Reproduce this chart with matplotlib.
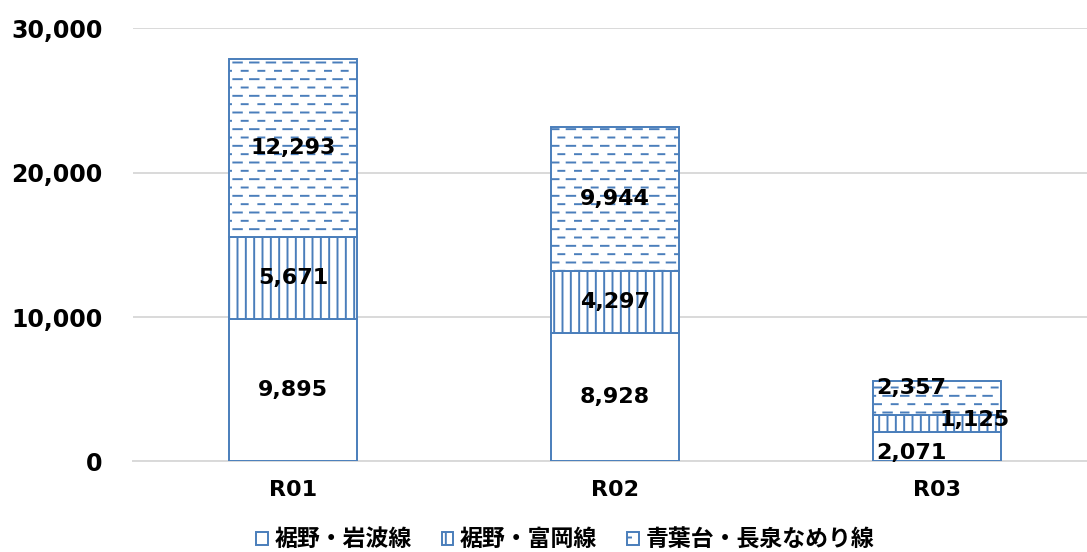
import warnings
import numpy as np
import matplotlib
matplotlib.use('Agg')
import matplotlib.pyplot as plt
import matplotlib.hatch as mhatch
from matplotlib.path import Path

warnings.filterwarnings('ignore', message='hatch must consist')

# data
categories = ['R01', 'R02', 'R03']
series_names = ['裾野・岩波線', '裾野・富岡線', '青葉台・長泉なめり線']
iwanami = [9895, 8928, 2071]
tomioka = [5671, 4297, 1125]
aobadai = [12293, 9944, 2357]
yticks = [0, 10000, 20000, 30000]


# dashed horizontal hatch (Excel style), used with the 'd' character
class DashHatch(mhatch.HatchPatternBase):
    def __init__(self, hatch, density):
        self.rows = 12 if 'd' in hatch else 0
        self.dashes = 6
        self.num_vertices = self.rows * self.dashes * 2

    def set_vertices_and_codes(self, vertices, codes):
        k = 0
        for r in range(self.rows):
            y = (r + 0.5) / self.rows
            shift = 0.0 if r % 2 == 0 else 0.5 / self.dashes
            length = 0.085 if r % 2 == 0 else 0.06
            for d in range(self.dashes):
                x0 = d / self.dashes + shift
                vertices[k] = (x0, y)
                vertices[k + 1] = (x0 + length, y)
                codes[k] = Path.MOVETO
                codes[k + 1] = Path.LINETO
                k += 2


mhatch._hatch_types.append(DashHatch)

plt.rcParams['font.family'] = ['DejaVu Sans', 'Noto Sans CJK JP']
plt.rcParams['font.weight'] = 'bold'
plt.rcParams['hatch.linewidth'] = 1.4

blue = '#4A7EBB'
grid = '#D9D9D9'

fig = plt.figure(figsize=(10.87, 5.52), dpi=100)
ax = fig.add_axes([0.1224, 0.164, 0.8776, 0.7847])

x = np.arange(len(categories))
w = 0.4
b1 = ax.bar(x, iwanami, w, color='white', edgecolor=blue, linewidth=1.4,
            label=series_names[0], zorder=3)
b2 = ax.bar(x, tomioka, w, bottom=iwanami, color='white', edgecolor=blue,
            linewidth=1.4, hatch='||', label=series_names[1], zorder=3)
bottom3 = np.array(iwanami) + np.array(tomioka)
b3 = ax.bar(x, aobadai, w, bottom=bottom3, color='white', edgecolor=blue,
            linewidth=1.4, hatch='d', label=series_names[2], zorder=3)

# data labels, R03 ones are moved off the thin segments like in the original
offsets = {0: [(0, 0), (0, 0), (0, 0)],
           1: [(0, 0), (0, 0), (0, 0)],
           2: [(-26, -6), (38, 3), (-26, 10)]}
for i in range(len(categories)):
    bases = [0, iwanami[i], bottom3[i]]
    vals = [iwanami[i], tomioka[i], aobadai[i]]
    for j in range(3):
        ax.annotate(f'{vals[j]:,}', (x[i], bases[j] + vals[j] / 2),
                    xytext=offsets[i][j], textcoords='offset pixels',
                    ha='center', va='center', fontsize=16,
                    fontweight='bold', zorder=5)

ax.set_ylim(0, 30000)
ax.set_xlim(-0.497, 2.466)
ax.set_yticks(yticks)
ax.set_yticklabels([f'{t:,}' for t in yticks])
ax.set_xticks(x)
ax.set_xticklabels(categories)
ax.tick_params(axis='y', length=0, pad=22, labelsize=17)
ax.tick_params(axis='x', length=0, pad=13, labelsize=16)

ax.grid(axis='y', color=grid, linewidth=1.4, zorder=0)
for s in ['top', 'right', 'left']:
    ax.spines[s].set_visible(False)
ax.spines['bottom'].set_color(grid)
ax.spines['bottom'].set_linewidth(1.4)

fig.legend(handles=[b1, b2, b3], loc='center', bbox_to_anchor=(0.52, 0.022),
           ncol=3, frameon=False, fontsize=16.5, handlelength=0.5,
           handleheight=0.5, handletextpad=0.3, columnspacing=1.3)

fig.savefig('out.png', dpi=100)
